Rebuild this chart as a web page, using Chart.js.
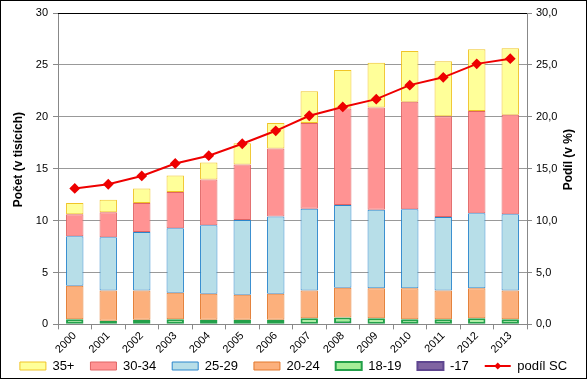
<!DOCTYPE html>
<html>
<head>
<meta charset="utf-8">
<script src="https://cdn.jsdelivr.net/npm/chart.js@4/dist/chart.umd.min.js"></script>
<style>
html,body{margin:0;padding:0;background:#fff;}
canvas{display:block;}
</style>
</head>
<body>
<canvas id="c" width="587" height="379"></canvas>
<script>
const years = ['2000','2001','2002','2003','2004','2005','2006','2007','2008','2009','2010','2011','2012','2013'];
const age17 =   [0.05,0.05,0.05,0.05,0.05,0.05,0.05,0.05,0.1,0.05,0.05,0.05,0.05,0.05];
const age1819 = [0.45,0.3,0.4,0.45,0.4,0.4,0.4,0.55,0.55,0.55,0.45,0.45,0.55,0.45];
const age2024 = [3.23,2.92,2.82,2.54,2.5,2.4,2.5,2.67,2.88,2.87,2.97,2.77,2.87,2.77];
const age2529 = [4.77,5.13,5.63,6.21,6.6,7.2,7.45,7.88,7.97,7.58,7.63,7.08,7.23,7.33];
const age3034 = [2.1,2.4,2.8,3.5,4.4,5.35,6.55,8.25,9.3,9.85,10.35,9.7,9.85,9.6];
const age35p =  [1.1,1.2,1.4,1.6,1.65,2.05,2.45,3.05,3.7,4.3,4.9,5.3,5.95,6.4];
const podilSC = [13.1,13.5,14.3,15.5,16.25,17.4,18.65,20.1,20.95,21.7,23.05,23.8,25.1,25.6];
const leftTicks = [0,5,10,15,20,25,30];
const leftTitle = 'Počet (v tisících)';
const rightTitle = 'Podíl (v %)';

const FONT = "'Liberation Sans', Arial, sans-serif";
const LEGEND_CENTER_Y = 366;
const LEGEND_H = 23;

const layoutPlugin = {
  id: 'legendLayout',
  beforeLayout(chart) {
    const lg = chart.legend;
    if (lg && !lg._patched) {
      const orig = lg.fit;
      lg.fit = function () { orig.call(this); this.height = LEGEND_H; };
      lg._patched = true;
    }
  },
  afterLayout(chart) {
    const lg = chart.legend;
    const pad = lg.options.labels.padding;
    const ih = Math.max(lg.options.labels.boxHeight, lg.options.labels.font.size);
    const top = LEGEND_CENTER_Y - pad - ih / 2;
    lg.top = top;
    lg.bottom = chart.height;
    lg.height = lg.bottom - lg.top;
  }
};

const framePlugin = {
  id: 'frame',
  afterDraw(chart) {
    const ctx = chart.ctx;
    const a = chart.chartArea;
    ctx.save();
    ctx.strokeStyle = '#000';
    ctx.lineWidth = 1;
    ctx.beginPath();
    ctx.moveTo(a.left, Math.round(a.top) + 0.5);
    ctx.lineTo(a.right, Math.round(a.top) + 0.5);
    ctx.stroke();
    ctx.strokeRect(0.5, 0.5, chart.width - 1, chart.height - 1);
    ctx.fillStyle = '#000';
    ctx.font = "bold 12px " + FONT;
    ctx.textAlign = 'center';
    ctx.textBaseline = 'middle';
    const cyT = (a.top + a.bottom) / 2 - 9;
    ctx.save();
    ctx.translate(19, cyT);
    ctx.rotate(-Math.PI / 2);
    ctx.fillText(leftTitle, 0, 0);
    ctx.restore();
    ctx.save();
    ctx.translate(chart.scales.y1.right - 16, cyT);
    ctx.rotate(-Math.PI / 2);
    ctx.fillText(rightTitle, 0, 0);
    ctx.restore();
    ctx.restore();
    const lg = chart.legend;
    if (lg && lg.legendHitBoxes) {
      lg.legendItems.forEach((it, i) => {
        if (it.datasetIndex === 0) {
          const hb = lg.legendHitBoxes[i];
          const bw = lg.options.labels.boxWidth;
          const cy = hb.top + hb.height / 2;
          ctx.save();
          ctx.strokeStyle = '#EE0000';
          ctx.lineWidth = 2;
          ctx.beginPath();
          ctx.moveTo(hb.left, cy);
          ctx.lineTo(hb.left + bw, cy);
          ctx.stroke();
          ctx.fillStyle = '#EE0000';
          const cx = hb.left + bw / 2;
          ctx.beginPath();
          ctx.moveTo(cx, cy - 3.5);
          ctx.lineTo(cx + 3.5, cy);
          ctx.lineTo(cx, cy + 3.5);
          ctx.lineTo(cx - 3.5, cy);
          ctx.closePath();
          ctx.fill();
          ctx.restore();
        }
      });
    }
  }
};

function barDs(label, data, bg, border, bw) {
  return {
    type: 'bar', label, data, backgroundColor: bg, borderColor: border,
    borderWidth: bw, borderSkipped: false, yAxisID: 'y', order: 1,
    barPercentage: 0.52, categoryPercentage: 1.0
  };
}

new Chart(document.getElementById('c'), {
  type: 'bar',
  data: {
    labels: years,
    datasets: [
      {
        type: 'line', label: 'podíl SC', data: podilSC, yAxisID: 'y1', order: 0,
        borderColor: '#EE0000', backgroundColor: '#EE0000', borderWidth: 2,
        pointStyle: 'rectRot', pointRadius: 4, pointBackgroundColor: '#EE0000',
        pointBorderColor: '#EE0000', tension: 0
      },
      barDs('-17', age17, '#8064A2', '#5F4690', 2),
      barDs('18-19', age1819, '#A6EE98', '#23A04A', 2),
      barDs('20-24', age2024, '#FCB07C', '#E2782C', 1),
      barDs('25-29', age2529, '#B7DEE8', '#2A86CC', 1),
      barDs('30-34', age3034, '#FF9393', '#E06464', 1),
      barDs('35+', age35p, '#FFFF99', '#F0C426', 1)
    ]
  },
  options: {
    responsive: false,
    animation: false,
    layout: { padding: { left: 2, right: 2, top: 13, bottom: 0 } },
    plugins: {
      tooltip: { enabled: false },
      legend: {
        position: 'bottom',
        reverse: true,
        labels: {
          boxWidth: 26, boxHeight: 8, padding: 16, color: '#000',
          font: { family: FONT, size: 13 },
          generateLabels(chart) {
            const items = Chart.defaults.plugins.legend.labels.generateLabels(chart);
            items.forEach(it => {
              if (it.datasetIndex === 0) {
                it.fillStyle = 'rgba(0,0,0,0)';
                it.strokeStyle = 'rgba(0,0,0,0)';
                it.lineWidth = 0;
              }
            });
            return items;
          }
        }
      }
    },
    scales: {
      x: {
        stacked: true,
        offset: true,
        grid: { display: true, drawOnChartArea: false, drawTicks: true, tickLength: 5, color: '#888', offset: true },
        border: { color: '#888' },
        ticks: { minRotation: 45, maxRotation: 45, color: '#000', font: { family: FONT, size: 11 }, padding: 0 }
      },
      y: {
        stacked: true,
        position: 'left',
        min: 0, max: 30,
        afterBuildTicks(s) { s.ticks = leftTicks.map(v => ({ value: v })); },
        afterFit(s) { s.width = 56; },
        grid: { color: '#999', borderDash: [4, 3], tickLength: 5, tickBorderDash: [], tickColor: '#888' },
        border: { color: '#888' },
        ticks: { color: '#000', font: { family: FONT, size: 11 }, padding: 5 },
        title: { display: false }
      },
      y1: {
        position: 'right',
        min: 0, max: 30,
        afterBuildTicks(s) { s.ticks = leftTicks.map(v => ({ value: v })); },
        afterFit(s) { s.width = 58; },
        grid: { drawOnChartArea: false, tickLength: 5, color: '#888' },
        border: { color: '#888' },
        ticks: { color: '#000', font: { family: FONT, size: 11 }, padding: 4,
          callback: v => v.toFixed(1).replace('.', ',') },
        title: { display: false }
      }
    }
  },
  plugins: [layoutPlugin, framePlugin]
});
</script>
</body>
</html>
